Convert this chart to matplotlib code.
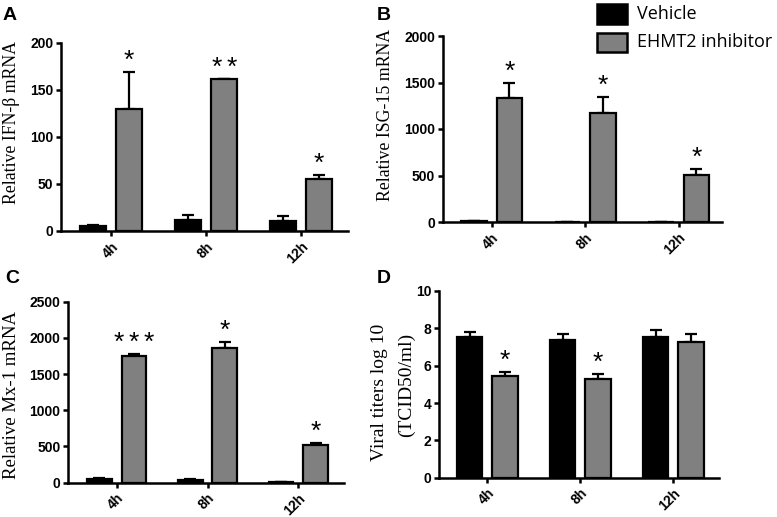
import matplotlib
matplotlib.use('Agg')
import matplotlib.pyplot as plt
from matplotlib.patches import Rectangle
import numpy as np

W, H = 777, 517

times = ['4h', '8h', '12h']
series_names = ['Vehicle', 'EHMT2 inhibitor']

# Panel A: Relative IFN-beta mRNA
a_vehicle = [5.3, 11.5, 10.6]
a_vehicle_err = [1.5, 6.0, 5.5]
a_inhib = [130, 161, 55]
a_inhib_err = [38.5, 0.5, 4.0]
a_stars = [1, 2, 1]
a_yticks = [0, 50, 100, 150, 200]

# Panel B: Relative ISG-15 mRNA
b_vehicle = [15, 5, 3]
b_vehicle_err = [0, 0, 0]
b_inhib = [1330, 1175, 505]
b_inhib_err = [168, 172, 65]
b_stars = [1, 1, 1]
b_yticks = [0, 500, 1000, 1500, 2000]

# Panel C: Relative Mx-1 mRNA
c_vehicle = [55, 40, 5]
c_vehicle_err = [8, 8, 1]
c_inhib = [1754, 1865, 521]
c_inhib_err = [20, 75, 22]
c_stars = [3, 1, 1]
c_yticks = [0, 500, 1000, 1500, 2000, 2500]

# Panel D: Viral titers
d_vehicle = [7.55, 7.38, 7.55]
d_vehicle_err = [0.24, 0.30, 0.36]
d_inhib = [5.46, 5.30, 7.29]
d_inhib_err = [0.22, 0.24, 0.39]
d_stars = [1, 1, 0]
d_yticks = [0, 2, 4, 6, 8, 10]

GRAY = '#808080'
OFF = 0.19
BW = 0.27
SANS = 'Liberation Sans'
SERIF = 'Liberation Serif'
STAR_GAP = 10.8  # points between adjacent stars

fig = plt.figure(figsize=(W / 100, H / 100), dpi=100)


def fx(px):
    return px / W


def fy(py):
    return 1 - py / H


def panel(box, yticks, veh, veh_err, inh, inh_err, stars):
    left, right, y0, ytop, tick0, spacing = box
    ax = fig.add_axes([fx(left), fy(y0), (right - left) / W, (y0 - ytop) / H])
    x = np.arange(len(times))
    ax.bar(x - OFF, veh, BW, color='black', edgecolor='black', lw=1.6, zorder=3)
    ax.bar(x + OFF, inh, BW, color=GRAY, edgecolor='black', lw=1.6, zorder=3)
    for xs, v, e in ((x - OFF, veh, veh_err), (x + OFF, inh, inh_err)):
        ax.errorbar(xs, v, yerr=[np.zeros(len(v)), e], fmt='none', ecolor='black',
                    elinewidth=1.6, capsize=4, capthick=1.6, zorder=2)
    for xi, v, e, n in zip(x, inh, inh_err, stars):
        for k in range(n):
            dx = (k - (n - 1) / 2) * STAR_GAP
            ax.annotate('*', (xi + OFF, v + e), xytext=(dx, 3), textcoords='offset points',
                        ha='center', va='baseline', fontsize=19, family=SANS,
                        annotation_clip=False)
    ax.set_xlim((left - tick0) / spacing, (right - tick0) / spacing)
    ax.set_ylim(0, yticks[-1])
    ax.set_yticks(yticks)
    ax.set_xticks(x)
    ax.set_xticklabels(times, rotation=45, ha='right', va='top', rotation_mode='anchor')
    for sp in ('top', 'right'):
        ax.spines[sp].set_visible(False)
    for sp in ('left', 'bottom'):
        ax.spines[sp].set_linewidth(1.8)
    ax.tick_params(direction='out', length=3.6, width=1.8, pad=2)
    ax.tick_params(axis='x', pad=2.5)
    for lab in ax.get_xticklabels() + ax.get_yticklabels():
        lab.set_fontfamily(SANS)
        lab.set_fontweight('bold')
        lab.set_fontsize(10)
    ax.patch.set_alpha(0)
    return ax


panel((61, 348, 231, 42.7, 111, 95), a_yticks, a_vehicle, a_vehicle_err, a_inhib, a_inhib_err, a_stars)
panel((442.7, 722.3, 222, 36, 491.7, 93.5), b_yticks, b_vehicle, b_vehicle_err, b_inhib, b_inhib_err, b_stars)
panel((68.3, 344, 482.7, 301.7, 116.7, 90.8), c_yticks, c_vehicle, c_vehicle_err, c_inhib, c_inhib_err, c_stars)
panel((439, 719.3, 477.7, 291, 487.3, 93), d_yticks, d_vehicle, d_vehicle_err, d_inhib, d_inhib_err, d_stars)

# y labels
fig.text(fx(12), fy(123), 'Relative IFN-β mRNA', rotation=90, ha='center', va='center',
         fontsize=12.8, family=SERIF)
fig.text(fx(386), fy(115), 'Relative ISG-15 mRNA', rotation=90, ha='center', va='center',
         fontsize=12.8, family=SERIF)
fig.text(fx(12), fy(395), 'Relative Mx-1 mRNA', rotation=90, ha='center', va='center',
         fontsize=13.5, family=SERIF)
fig.text(fx(380), fy(392), 'Viral titers log 10', rotation=90, ha='center', va='center',
         fontsize=14, family=SERIF)
fig.text(fx(406), fy(385), '(TCID50/ml)', rotation=90, ha='center', va='center',
         fontsize=14, family=SERIF)

# panel letters
for letter, px, py in (('A', 3, 20), ('B', 377, 20), ('C', 5, 283), ('D', 377, 283)):
    fig.text(fx(px), fy(py), letter, ha='left', va='baseline', fontsize=14,
             fontweight='bold', family=SANS)

# legend
for name, color, ytop_px, ybot_px in ((series_names[0], 'black', 4, 24),
                                      (series_names[1], GRAY, 32.7, 51.7)):
    r = Rectangle((fx(596.7), fy(ybot_px)), 30.6 / W, (ybot_px - ytop_px) / H,
                  facecolor=color, edgecolor='black', lw=1.8, transform=fig.transFigure,
                  figure=fig)
    fig.patches.append(r)
    fig.text(fx(636.7), fy((ytop_px + ybot_px) / 2), name, ha='left', va='center',
             fontsize=13, family='Open Sans')

fig.savefig('out.png', dpi=100)
